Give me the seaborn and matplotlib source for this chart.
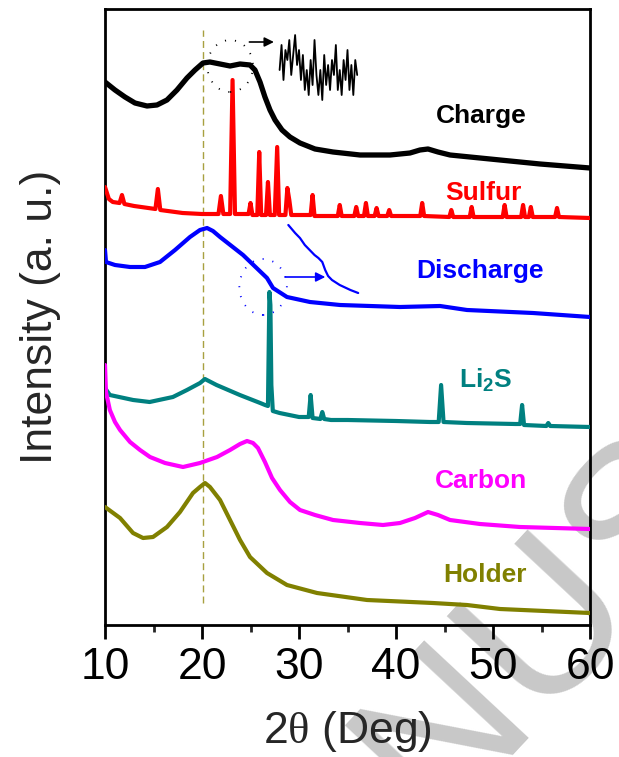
import numpy as np
import pandas as pd
import seaborn as sns
import matplotlib
matplotlib.use("Agg")
import matplotlib.pyplot as plt
from matplotlib.patches import Ellipse

# ---------------- data (arbitrary intensity units) ----------------
charge_x = [10.0, 11.03, 12.06, 13.09, 14.33, 15.36, 16.39, 17.42, 18.45, 19.28, 20.10, 20.82, 21.86,
            22.89, 23.92, 24.95, 25.46, 25.98, 26.49, 27.01, 27.53, 28.25, 29.07, 30.10, 31.65, 33.51,
            36.29, 39.38, 41.44, 42.47, 43.30, 44.33, 45.57, 47.63, 50.72, 54.85, 60.0]
charge_y = [543, 535, 528, 522, 519, 520, 525, 535, 547, 555, 562, 563, 561,
            559, 561, 560, 555, 543, 528, 515, 505, 495, 488, 482, 476, 473,
            470, 470, 472, 475, 476, 473, 470, 468, 465, 461, 457]

charge_inset_x = [28.0, 28.2, 28.4, 28.6, 28.8, 29.0, 29.2, 29.4, 29.6, 29.8, 30.0, 30.2, 30.4, 30.6,
                  30.8, 31.0, 31.2, 31.4, 31.6, 31.8, 32.0, 32.2, 32.4, 32.6, 32.8, 33.0, 33.2, 33.4,
                  33.6, 33.8, 34.0, 34.2, 34.4, 34.6, 34.8, 35.0, 35.2, 35.4, 35.6, 35.8, 36.0]
charge_inset_y = [555, 580, 545, 575, 565, 585, 550, 570, 590, 560, 575, 545, 570, 535,
                  555, 530, 565, 540, 585, 550, 530, 555, 525, 570, 540, 560, 535, 565,
                  550, 580, 535, 555, 530, 565, 545, 575, 535, 560, 530, 565, 550]

sulfur_x = [10.0, 10.4, 10.8, 11.5, 11.75, 12.0, 13.0, 15.2, 15.45, 15.7, 18.0, 20.0, 21.7, 21.95, 22.2,
            22.9, 23.15, 23.4, 24.8, 25.0, 25.2, 25.7, 25.9, 26.1, 26.6, 26.8, 27.0, 27.5, 27.75, 27.95,
            28.6, 28.8, 29.0, 29.2, 31.2, 31.4, 31.6, 34.0, 34.2, 34.4, 35.7, 35.9, 36.1, 36.7, 36.9,
            37.1, 37.8, 38.0, 38.2, 39.1, 39.3, 39.5, 42.5, 42.7, 42.9, 45.5, 45.7, 45.9, 47.6, 47.8,
            48.0, 51.0, 51.2, 51.4, 52.9, 53.1, 53.3, 53.7, 53.9, 54.1, 56.4, 56.6, 56.8, 60.0]
sulfur_y = [438, 426, 423, 422, 430, 421, 419, 416, 436, 415, 412, 411, 411, 429, 411,
            411, 545, 411, 411, 422, 410, 410, 473, 410, 410, 443, 410, 410, 478, 410,
            410, 437, 425, 410, 410, 430, 409, 409, 420, 409, 409, 418, 409, 409, 422,
            409, 409, 417, 409, 409, 415, 409, 409, 422, 409, 408, 415, 408, 408, 418,
            408, 408, 420, 408, 408, 420, 408, 408, 418, 408, 408, 417, 408, 407]

discharge_x = [10.0, 10.1, 11.03, 12.58, 14.12, 15.67, 17.22, 18.76, 19.79, 20.52, 21.13, 21.86, 24.23,
               26.70, 27.32, 28.76, 31.13, 34.23, 40.41, 44.54, 47.32, 54.12, 60.0]
discharge_y = [375, 363, 360, 358, 358, 363, 375, 388, 395, 397, 394, 388, 370,
               347, 337, 328, 323, 320, 318, 319, 315, 312, 308]

discharge_inset_x = [28.9, 29.6, 30.1, 30.6, 31.1, 31.6, 32.0, 32.4, 32.7, 33.0, 33.4, 34.2, 35.3, 36.1]
discharge_inset_y = [400, 392, 387, 380, 375, 370, 367, 363, 355, 349, 345, 340, 335, 332]

li2s_x = [10.0, 10.5, 12.9, 14.6, 17.0, 18.45, 19.8, 20.3, 21.5, 23.9, 26.0, 26.5, 26.8, 26.95, 27.05,
          27.15, 27.3, 28.0, 30.0, 31.0, 31.2, 31.4, 32.2, 32.4, 32.6, 33.3, 35.0, 40.0, 43.5, 44.4,
          44.65, 44.9, 47.3, 52.3, 52.8, 53.0, 53.2, 55.5, 55.7, 55.9, 60.0]
li2s_y = [237, 230, 225, 223, 228, 235, 242, 246, 240, 230, 222, 220, 219, 333, 320,
          240, 214, 212, 208, 208, 230, 207, 206, 213, 206, 205, 205, 204, 203, 203,
          240, 203, 202, 201, 201, 220, 200, 199, 202, 199, 198]

carbon_x = [10.0, 10.1, 10.5, 11.03, 11.55, 12.58, 13.61, 14.64, 16.19, 18.04, 19.79, 21.55, 22.89,
            23.92, 24.64, 25.26, 25.77, 26.49, 27.22, 28.04, 29.07, 30.10, 31.65, 33.51, 36.29, 38.66,
            40.41, 41.96, 43.30, 44.33, 45.57, 48.66, 52.78, 60.0]
carbon_y = [260, 233, 215, 203, 195, 183, 175, 168, 162, 158, 162, 168, 175,
            181, 184, 182, 177, 163, 147, 135, 123, 115, 110, 105, 102, 100,
            102, 107, 113, 110, 105, 101, 98, 96]

holder_x = [10.0, 11.55, 12.89, 13.92, 14.95, 16.39, 17.73, 19.07, 19.79, 20.31, 20.82, 21.86, 22.89,
            23.92, 24.95, 26.70, 28.76, 31.86, 37.01, 43.81, 47.32, 50.72, 60.0]
holder_y = [118, 107, 92, 87, 88, 98, 113, 132, 138, 142, 138, 125, 105,
            85, 68, 52, 40, 32, 25, 22, 20, 16, 12]

names = ["Charge", "Sulfur", "Discharge", "Li2S", "Carbon", "Holder"]
colors = ["#000000", "#ff0000", "#0000ff", "#008080", "#ff00ff", "#808000"]
label_texts = ["Charge", "Sulfur", "Discharge", r"Li$_\mathregular{2}$S", "Carbon", "Holder"]
label_x = [48.8, 49.0, 48.7, 49.2, 48.8, 49.2]
label_y = [502, 425, 347, 238, 137, 43]

xticks = [10, 20, 30, 40, 50, 60]
ref_line_x = 20.1

# ---------------- styling ----------------
sns.set_theme(style="white")
plt.rcParams["font.family"] = ["Liberation Sans", "DejaVu Sans"]
plt.rcParams["mathtext.fontset"] = "custom"
plt.rcParams["mathtext.rm"] = "Liberation Sans"
plt.rcParams["mathtext.sf"] = "Liberation Serif"

fig = plt.figure(figsize=(6.19, 7.57), dpi=100)
ax = fig.add_axes([105 / 619, 1 - 625 / 757, 485 / 619, 616 / 757])
ax.patch.set_alpha(0)
ax.set_zorder(2)

# watermark behind everything
fig.text(635 / 619, 1 - 495 / 757, "MANUSCRIPT", rotation=47, rotation_mode="anchor",
         ha="center", va="center_baseline", fontsize=150, color="#c8c8c8", zorder=0)

series = [(charge_x, charge_y), (sulfur_x, sulfur_y), (discharge_x, discharge_y),
          (li2s_x, li2s_y), (carbon_x, carbon_y), (holder_x, holder_y)]
frames = []
for n, (xs, ys) in zip(names, series):
    frames.append(pd.DataFrame({"two_theta": xs, "intensity": ys, "sample": n}))
df = pd.concat(frames, ignore_index=True)

for n, c in zip(names, colors):
    sub = df[df["sample"] == n]
    sns.lineplot(data=sub, x="two_theta", y="intensity", sort=False, estimator=None,
                 color=c, lw=3.8 if n == "Charge" else 3.0, ax=ax, legend=False, zorder=3)

# insets (magnified segments)
sns.lineplot(x=charge_inset_x, y=charge_inset_y, sort=False, estimator=None, color="black",
             lw=1.3, ax=ax, zorder=3)
sns.lineplot(x=discharge_inset_x, y=discharge_inset_y, sort=False, estimator=None, color="#0000ff",
             lw=1.6, ax=ax, zorder=3)

# arrows and dotted circles
ax.annotate("", xy=(27.7, 583), xytext=(24.6, 583),
            arrowprops=dict(arrowstyle="-|>", color="black", lw=1.2, mutation_scale=14))
ax.annotate("", xy=(33.0, 348), xytext=(28.3, 348),
            arrowprops=dict(arrowstyle="-|>", color="#0000ff", lw=1.2, mutation_scale=14))
ax.add_patch(Ellipse((22.9, 559), 4.7, 52, fill=False, ec="black", lw=1.3,
                     linestyle=(0, (0.6, 5)), zorder=4))
ax.add_patch(Ellipse((26.3, 338), 4.9, 56, fill=False, ec="#0000ff", lw=1.3,
                     linestyle=(0, (0.6, 5)), zorder=4))

# reference dashed line
ax.plot([ref_line_x, ref_line_x], [22, 595], color="#a8a040", lw=1.0, ls=(0, (5, 3)), zorder=2)

# sample labels
for t, x, y, c in zip(label_texts, label_x, label_y, colors):
    ax.text(x, y, t, color=c, fontsize=19, fontweight="bold", ha="center", va="baseline", zorder=5)

ax.set_xlim(10, 60)
ax.set_ylim(0, 616)
ax.set_xticks(xticks)
ax.set_xticks(np.arange(15, 60, 10), minor=True)
ax.set_yticks([])
ax.tick_params(axis="x", which="major", direction="out", length=10, width=2, labelsize=32,
               pad=6, colors="black", bottom=True)
ax.tick_params(axis="x", which="minor", direction="out", length=5, width=2, bottom=True)
for s in ax.spines.values():
    s.set_visible(True)
    s.set_linewidth(2)
    s.set_color("black")

ax.set_xlabel(r"2$\mathsf{\theta}$ (Deg)", fontsize=32, labelpad=15)
ax.set_ylabel("Intensity (a. u.)", fontsize=32, labelpad=32)

fig.savefig("out.png", dpi=100)
